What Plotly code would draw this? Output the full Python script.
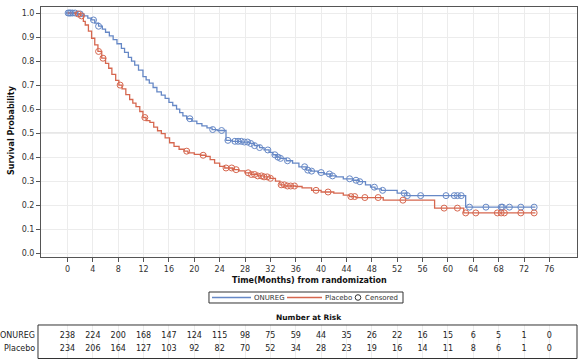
import plotly.graph_objects as go
import bisect

# ---------------- data ----------------
onureg_t = [0, 1.5, 2.6, 3.2, 3.8, 4.3, 4.9, 5.5, 6.0, 6.6, 7.2, 7.8, 8.5, 9.0, 9.6, 10.1, 10.6, 11.2, 11.9, 12.4,
            12.9, 13.5, 14.1, 14.8, 15.4, 16.0, 16.6, 17.2, 17.7, 18.2, 18.8, 19.6, 20.4, 21.2, 22.0, 22.8, 23.6, 25.0,
            26.0, 27.5, 28.7, 29.5, 30.3, 31.0, 31.8, 32.4, 33.0, 33.5, 34.5, 35.5, 36.5, 37.7, 38.5, 39.5, 40.5, 41.5,
            42.4, 43.5, 45.0, 46.0, 47.0, 47.8, 48.5, 49.5, 52.0, 53.5, 62.8, 73.8]
onureg_s = [1.000, 0.996, 0.988, 0.979, 0.971, 0.958, 0.945, 0.933, 0.920, 0.905, 0.889, 0.872, 0.853, 0.836, 0.815,
            0.800, 0.783, 0.762, 0.735, 0.722, 0.708, 0.690, 0.672, 0.658, 0.645, 0.628, 0.615, 0.600, 0.585, 0.572,
            0.560, 0.550, 0.540, 0.530, 0.522, 0.515, 0.511, 0.470, 0.466, 0.463, 0.457, 0.448, 0.440, 0.430, 0.420,
            0.410, 0.400, 0.395, 0.385, 0.375, 0.360, 0.346, 0.342, 0.336, 0.330, 0.322, 0.318, 0.310, 0.304, 0.298,
            0.285, 0.275, 0.268, 0.262, 0.250, 0.240, 0.192, 0.192]

placebo_t = [0, 1.4, 2.0, 2.5, 2.8, 3.3, 3.8, 4.3, 4.8, 5.4, 6.0, 6.5, 7.0, 7.6, 8.1, 8.6, 9.2, 9.8, 10.3, 10.8,
             11.4, 11.9, 12.4, 13.0, 13.6, 14.2, 14.8, 15.4, 16.1, 16.8, 17.6, 18.4, 19.0, 20.0, 21.0, 21.8, 22.5,
             23.2, 24.0, 24.8, 26.0, 27.0, 28.0, 29.0, 30.0, 31.0, 32.0, 32.8, 33.5, 34.3, 36.0, 37.0, 38.5, 40.0,
             42.0, 43.5, 44.5, 45.5, 49.8, 57.9, 62.5, 73.8]
placebo_s = [1.000, 0.996, 0.988, 0.965, 0.950, 0.925, 0.895, 0.867, 0.840, 0.812, 0.790, 0.770, 0.745, 0.720,
             0.700, 0.684, 0.660, 0.640, 0.625, 0.610, 0.590, 0.565, 0.552, 0.545, 0.525, 0.510, 0.498, 0.480,
             0.460, 0.445, 0.433, 0.425, 0.418, 0.412, 0.408, 0.403, 0.390, 0.375, 0.362, 0.355, 0.348, 0.343,
             0.335, 0.328, 0.322, 0.318, 0.312, 0.300, 0.285, 0.280, 0.278, 0.272, 0.262, 0.255, 0.250, 0.242,
             0.236, 0.232, 0.221, 0.188, 0.168, 0.168]

onureg_censor_t = [0.1, 0.3, 0.5, 0.8, 1.2, 2.0, 4.1, 4.9, 19.3, 22.9, 24.3, 25.3, 26.4, 26.9, 27.4, 27.9, 28.4,
                   28.9, 29.5, 30.3, 31.6, 32.7, 33.2, 33.6, 34.7, 37.4, 37.9, 38.5, 40.0, 41.3, 41.8, 44.5, 45.5,
                   46.1, 48.4, 49.7, 53.1, 53.6, 55.7, 59.7, 61.0, 61.5, 62.1, 63.4, 66.0, 68.4, 68.6, 69.7, 71.5, 73.6]
placebo_censor_t = [1.7, 2.2, 4.9, 5.6, 8.3, 12.2, 18.8, 21.4, 25.0, 25.9, 26.6, 28.5, 29.0, 29.5, 30.0, 30.6,
                    31.0, 31.5, 32.0, 33.7, 34.2, 34.7, 35.2, 35.8, 39.2, 41.1, 44.7, 45.3, 46.9, 49.0, 52.9, 59.4,
                    61.5, 62.8, 64.4, 67.8, 68.4, 68.9, 71.5, 73.6]

risk_times = [0, 4, 8, 12, 16, 20, 24, 28, 32, 36, 40, 44, 48, 52, 56, 60, 64, 68, 72, 76]
onureg_risk = [238, 224, 200, 168, 147, 124, 115, 98, 75, 59, 44, 35, 26, 22, 16, 15, 6, 5, 1, 0]
placebo_risk = [234, 206, 164, 127, 103, 92, 82, 70, 52, 34, 28, 23, 19, 16, 14, 11, 8, 6, 1, 0]

y_ticks = [0.0, 0.1, 0.2, 0.3, 0.4, 0.5, 0.6, 0.7, 0.8, 0.9, 1.0]
group_names = ["ONUREG", "Placebo"]

# ---------------- style ----------------
BLUE = "#6688c6"
RED = "#d6674f"
FONT = "DejaVu Sans"
TXT = "#333333"


def surv_at(ts, ss, t):
    i = bisect.bisect_right(ts, t) - 1
    return ss[max(i, 0)]


fig = go.Figure()

fig.add_trace(go.Scatter(x=onureg_t, y=onureg_s, mode="lines", line=dict(color=BLUE, width=1.3, shape="hv"),
                         name=group_names[0], showlegend=False))
fig.add_trace(go.Scatter(x=placebo_t, y=placebo_s, mode="lines", line=dict(color=RED, width=1.3, shape="hv"),
                         name=group_names[1], showlegend=False))
fig.add_trace(go.Scatter(x=onureg_censor_t, y=[surv_at(onureg_t, onureg_s, t) for t in onureg_censor_t],
                         mode="markers", showlegend=False,
                         marker=dict(symbol="circle-open", size=6, color=BLUE, line=dict(width=1))))
fig.add_trace(go.Scatter(x=placebo_censor_t, y=[surv_at(placebo_t, placebo_s, t) for t in placebo_censor_t],
                         mode="markers", showlegend=False,
                         marker=dict(symbol="circle-open", size=6, color=RED, line=dict(width=1))))

# number-at-risk table rows
fig.add_trace(go.Scatter(x=risk_times, y=[1] * len(risk_times), yaxis="y2", mode="text",
                         text=[str(v) for v in onureg_risk], showlegend=False, cliponaxis=False,
                         textfont=dict(family=FONT, size=8, color="#222")))
fig.add_trace(go.Scatter(x=risk_times, y=[0] * len(risk_times), yaxis="y2", mode="text",
                         text=[str(v) for v in placebo_risk], showlegend=False, cliponaxis=False,
                         textfont=dict(family=FONT, size=8, color="#222")))

fig.update_layout(
    width=583, height=361,
    margin=dict(l=41, r=6, t=7, b=2, autoexpand=False),
    paper_bgcolor="white", plot_bgcolor="white",
    font=dict(family=FONT, size=8, color=TXT),
    showlegend=False,
    xaxis=dict(range=[-4.18, 80.36], tickmode="array", tickvals=risk_times, ticks="outside", ticklen=4,
               tickcolor="#555", showgrid=True, gridcolor="#ececec", gridwidth=1, showline=True,
               linecolor="#555", linewidth=1, mirror=True, zeroline=False, anchor="y",
               tickfont=dict(size=8, color=TXT)),
    yaxis=dict(domain=[0.2884, 1.0], range=[-0.0175, 1.025], tickmode="array", tickvals=y_ticks,
               tickformat=".1f", ticks="outside", ticklen=4, tickcolor="#555", showgrid=True,
               gridcolor="#ececec", showline=True, linecolor="#555", linewidth=1, mirror=True,
               zeroline=False, tickfont=dict(size=8, color=TXT)),
    yaxis2=dict(domain=[0.0014, 0.0966], range=[-0.731, 1.846], visible=False, anchor="x"),
)

# reference line at 0.5
fig.add_shape(type="line", xref="x domain", yref="y", x0=0, x1=1, y0=0.5, y1=0.5,
              line=dict(color="#cfcfcf", width=1.5), layer="below")
# table border
fig.add_shape(type="rect", xref="paper", yref="paper", x0=-0.0056, x1=1.0, y0=0.0014, y1=0.0966,
              line=dict(color="#333", width=1))

# ---- legend (drawn manually to match the compact SAS legend box) ----
LEG_Y = 0.1747
fig.add_shape(type="rect", xref="paper", yref="paper", x0=0.3134, x1=0.6754, y0=0.1591, y1=0.1903,
              line=dict(color="#333", width=1))
fig.add_shape(type="line", xref="paper", yref="paper", x0=0.3190, x1=0.3918, y0=LEG_Y, y1=LEG_Y,
              line=dict(color=BLUE, width=1.6))
fig.add_shape(type="line", xref="paper", yref="paper", x0=0.4590, x1=0.5243, y0=LEG_Y, y1=LEG_Y,
              line=dict(color=RED, width=1.6))
fig.add_shape(type="circle", xref="paper", yref="paper", xsizemode="pixel", ysizemode="pixel",
              xanchor=0.5914, yanchor=LEG_Y, x0=-2.8, x1=2.8, y0=-2.8, y1=2.8,
              line=dict(color="#333", width=1))
for label, xpos in zip(group_names + ["Censored"], [0.3974, 0.5299, 0.6045]):
    fig.add_annotation(text=label, xref="paper", yref="paper", x=xpos, y=LEG_Y, xanchor="left",
                       yanchor="middle", showarrow=False, xshift=-2, font=dict(size=7, color=TXT))

fig.add_annotation(text="<b>Time(Months) from randomization</b>", xref="paper", yref="paper", x=0.5, y=0.2244,
                   showarrow=False, font=dict(size=8, color="#111"), yanchor="middle")
fig.add_annotation(text="<b>Survival Probability</b>", xref="paper", yref="paper", x=-0.054,
                   y=0.6506, showarrow=False, textangle=-90, font=dict(size=8, color="#111"),
                   xanchor="center", yanchor="middle")
fig.add_annotation(text="<b>Number at Risk</b>", xref="paper", yref="paper", x=0.5, y=0.1165,
                   showarrow=False, font=dict(size=7.5, color="#111"), yanchor="middle")
for name, yv in zip(group_names, [1, 0]):
    fig.add_annotation(text=name, xref="paper", yref="y2", x=-0.0056, y=yv, xanchor="right", xshift=-1,
                       showarrow=False, font=dict(size=8, color="#222"))

fig.write_html("out.html", config={"displayModeBar": False},
               post_script="document.body.style.margin='0px';")
